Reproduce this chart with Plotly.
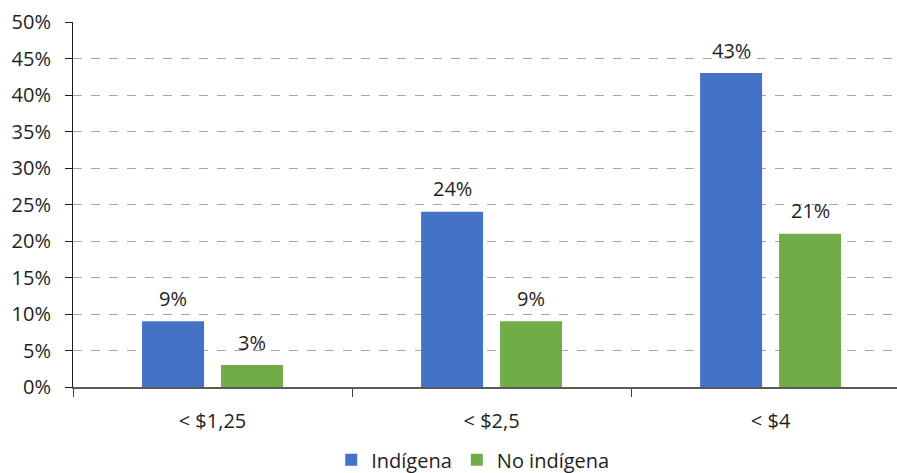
import plotly.graph_objects as go

# Poverty-line categories and share of population below each line (%)
categories = ["< $1,25", "< $2,5", "< $4"]
indigena = [9, 24, 43]
no_indigena = [3, 9, 21]
series_names = ["Indígena", "No indígena"]
y_ticks = [0, 5, 10, 15, 20, 25, 30, 35, 40, 45, 50]
y_tick_labels = [f"{t}%" for t in y_ticks]

BLUE = "#4472C4"
GREEN = "#70AD47"
FONT = "Segoe UI, Open Sans, Noto Sans, sans-serif"
TEXT = "#1f1f1f"
FS = 20

fig = go.Figure()
fig.add_trace(go.Bar(x=categories, y=indigena, name=series_names[0],
                     marker=dict(color=BLUE, line=dict(width=0))))
fig.add_trace(go.Bar(x=categories, y=no_indigena, name=series_names[1],
                     marker=dict(color=GREEN, line=dict(width=0))))

# Value labels above each bar
for vals, side in ((indigena, -1), (no_indigena, 1)):
    for cat, v in zip(categories, vals):
        fig.add_annotation(
            x=cat, y=v, text=f"{v}%", showarrow=False,
            xref="x", yref="y", yanchor="middle",
            xshift=side * 39.5, yshift=23,
            font=dict(family=FONT, size=FS, color=TEXT),
        )

fig.update_layout(
    width=897, height=473,
    margin=dict(l=73, r=0, t=22, b=86, autoexpand=False),
    paper_bgcolor="white", plot_bgcolor="white",
    barmode="group", bargap=0.434, bargroupgap=0.215,
    font=dict(family=FONT, size=FS, color=TEXT),
    showlegend=True,
    legend=dict(orientation="h", xref="container", yref="container",
                x=0.527, xanchor="center",
                y=0.028, yanchor="middle",
                font=dict(family=FONT, size=FS, color=TEXT),
                itemwidth=30, tracegroupgap=0),
)

fig.update_xaxes(
    type="category", range=[-0.5, 2.453],
    tickson="boundaries", ticks="outside", ticklen=8,
    tickcolor="#404040", tickwidth=1,
    showline=True, linecolor="#595959", linewidth=1.5,
    showgrid=False, zeroline=False, ticklabelstandoff=15,
    tickfont=dict(family=FONT, size=FS, color=TEXT),
)
fig.update_yaxes(
    range=[0, 50], tickvals=y_ticks, ticktext=y_tick_labels,
    ticks="outside", ticklen=7, tickcolor="#1a1a1a", tickwidth=1,
    showline=True, linecolor="#1a1a1a", linewidth=1,
    showgrid=True, gridcolor="#a6a6a6", griddash="dash", gridwidth=1,
    zeroline=False, ticklabelstandoff=10,
    tickfont=dict(family=FONT, size=FS, color=TEXT),
)

fig.write_html("out.html")
